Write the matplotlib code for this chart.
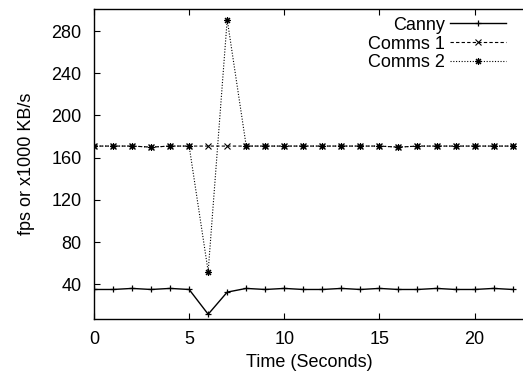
import matplotlib
matplotlib.use('Agg')
import matplotlib.pyplot as plt

plt.rcParams['font.family'] = ['Liberation Sans', 'DejaVu Sans']
plt.rcParams['font.size'] = 13

# seconds
t = list(range(23))

# values
canny = [35, 35, 36, 35, 36, 35, 11.5, 32.5, 36, 35, 36, 35,
         35, 36, 35, 36, 35, 35, 36, 35, 35, 36, 35]
comms1 = [171, 171, 171, 170, 171, 171, 171, 171, 171, 171, 171, 171,
          171, 171, 171, 171, 170, 171, 171, 171, 171, 171, 171]
comms2 = [171, 171, 171, 170, 171, 171, 52, 291, 171, 171, 171, 171,
          171, 171, 171, 171, 170, 171, 171, 171, 171, 171, 171]

fig = plt.figure(figsize=(5.23, 3.74), dpi=100)
ax = fig.add_axes([94 / 523, 1 - 319 / 374, (523 - 94) / 523 + 0.002,
                   (319 - 9) / 374])

ax.plot(t, canny, color='black', lw=1.0, ls='-', marker='+', ms=5, mew=0.9,
        label='Canny')
ax.plot(t, comms1, color='black', lw=0.8, ls=(0, (3, 2)), marker='x', ms=4,
        mew=0.8, label='Comms 1')
ax.plot(t, comms2, color='black', lw=0.8, ls=(0, (1, 1.5)),
        marker=(8, 2, 0), ms=5, mew=0.8, label='Comms 2')

ax.set_xlim(0, 22.6)
ax.set_ylim(7, 301)
ax.set_xticks([0, 5, 10, 15, 20])
ax.set_yticks([40, 80, 120, 160, 200, 240, 280])
ax.tick_params(direction='in', top=True, length=4, width=0.8, labelsize=13,
               pad=9)
ax.tick_params(axis='y', pad=9)
ax.spines['right'].set_visible(False)
for s in ['left', 'top', 'bottom']:
    ax.spines[s].set_linewidth(1.0)

ax.set_xlabel('Time (Seconds)', fontsize=13, labelpad=4)
ax.set_ylabel('fps or x1000 KB/s', fontsize=13, labelpad=12)

leg = ax.legend(loc='upper right', bbox_to_anchor=(0.958, 0.975),
                frameon=False, markerfirst=False, handlelength=3.1,
                handletextpad=0.3, labelspacing=0.1, borderaxespad=0.0,
                borderpad=0.0, fontsize=13)
for txt in leg.get_texts():
    txt.set_ha('right')

fig.savefig('out.png', dpi=100)
